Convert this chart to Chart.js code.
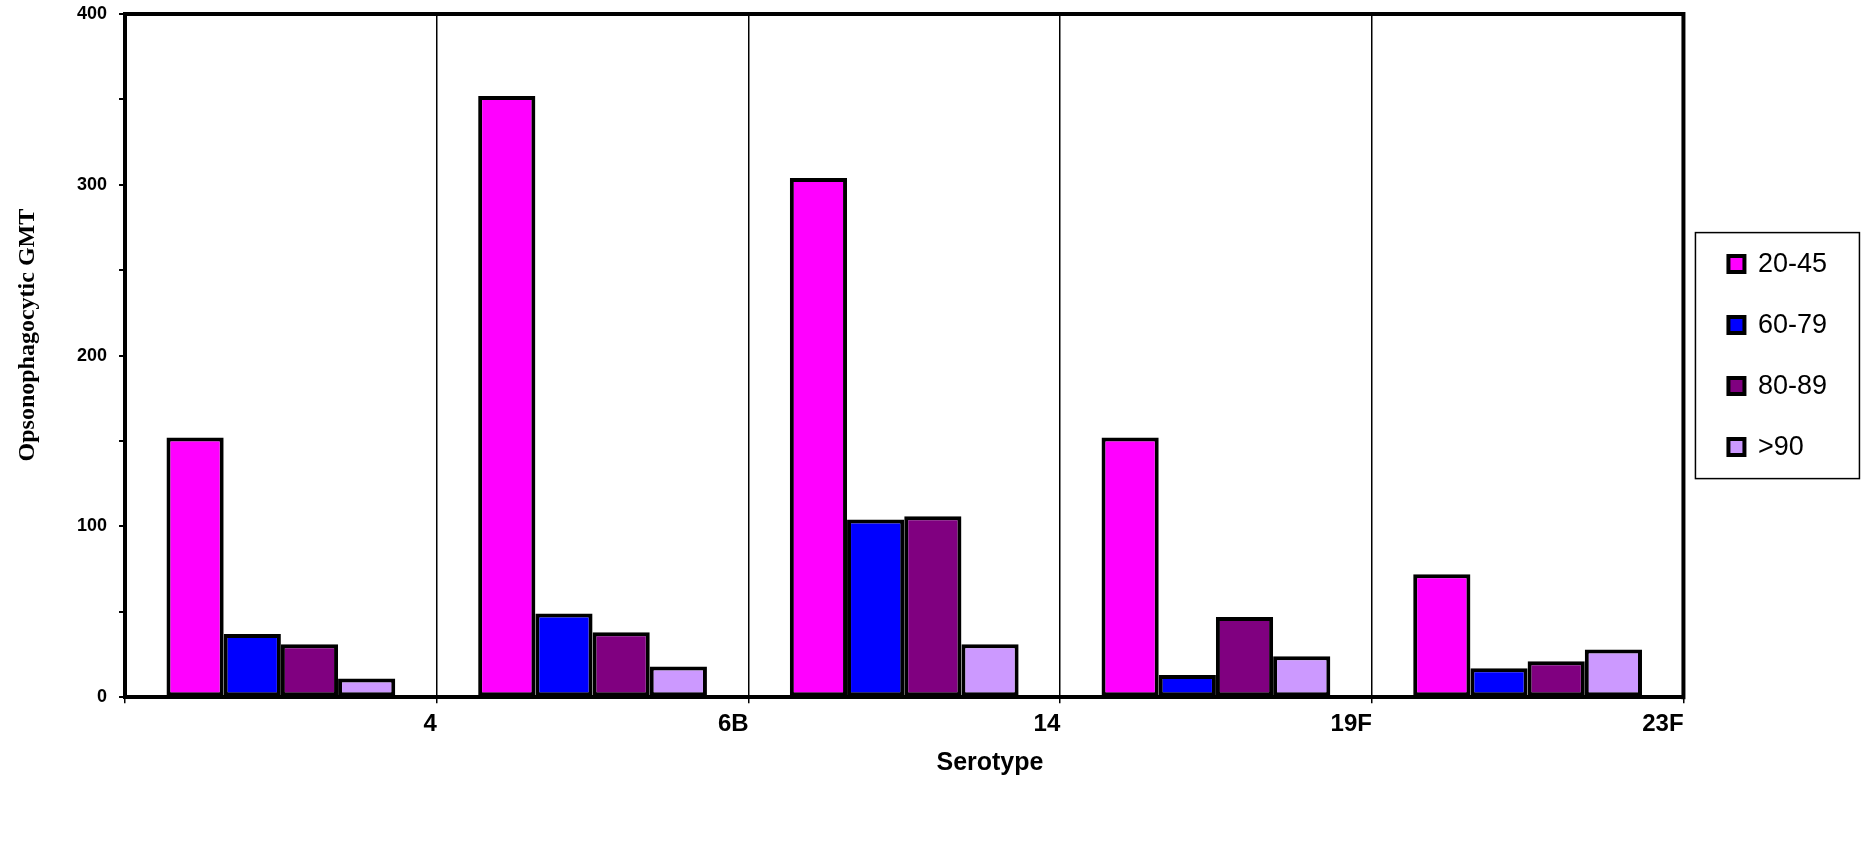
<!DOCTYPE html>
<html>
<head>
<meta charset="utf-8">
<script src="https://cdn.jsdelivr.net/npm/chart.js@4.4.0/dist/chart.umd.min.js"></script>
<style>
  body { margin: 0; background: #fff; }
  #wrap { width: 1862px; height: 842px; }
</style>
</head>
<body>
<div id="wrap"><canvas id="chart"></canvas></div>
<script>
// serotypes and GMT per age group
const serotypes = ["4", "6B", "14", "19F", "23F"];
const age20to45 = [152, 352, 304, 152, 72];
const age60to79 = [37, 49, 104, 13, 17];
const age80to89 = [31, 38, 106, 47, 21];
const age90plus = [11, 18, 31, 24, 28];

const sans = "'Liberation Sans', Arial, sans-serif";
const serif = "'Liberation Serif', 'Times New Roman', serif";

function ds(label, data, color) {
    return {
        label: label,
        data: data,
        backgroundColor: color,
        borderColor: "#000",
        borderWidth: 4,
        borderSkipped: false,
        categoryPercentage: 0.734,
        barPercentage: 1.0
    };
}

// top + right frame, legend box, axis titles
const frame = {
    id: "frame",
    afterDraw(chart) {
        const ctx = chart.ctx;
        const a = chart.chartArea;
        ctx.save();
        ctx.strokeStyle = "#000";
        ctx.lineWidth = 4;
        ctx.beginPath();
        ctx.moveTo(a.left - 2, a.top);
        ctx.lineTo(a.right, a.top);
        ctx.lineTo(a.right, a.bottom + 2);
        ctx.stroke();

        // legend border
        const lg = chart.legend;
        const hb = lg.legendHitBoxes;
        if (hb && hb.length) {
            const last = hb[hb.length - 1];
            const top = hb[0].top - 18;
            const bottom = last.top + last.height + 18;
            ctx.lineWidth = 1.5;
            ctx.strokeRect(lg.left + 1, top, 164, bottom - top);
        }

        ctx.fillStyle = "#000";
        ctx.textAlign = "center";
        ctx.textBaseline = "middle";

        // x axis title
        ctx.font = "bold 25px " + sans;
        ctx.fillText("Serotype", a.left + a.width * 0.555, a.bottom + 66);

        // y axis title
        ctx.translate(28, a.top + a.height * 0.47);
        ctx.rotate(-Math.PI / 2);
        ctx.font = "bold 24px " + serif;
        ctx.fillText("Opsonophagocytic GMT", 0, 0);
        ctx.restore();
    }
};

new Chart(document.getElementById("chart"), {
    type: "bar",
    data: {
        labels: serotypes,
        datasets: [
            ds("20-45", age20to45, "#FF00FF"),
            ds("60-79", age60to79, "#0000FF"),
            ds("80-89", age80to89, "#800080"),
            ds(">90", age90plus, "#CC99FF")
        ]
    },
    options: {
        responsive: true,
        maintainAspectRatio: false,
        animation: false,
        layout: { padding: { top: 14, right: 25, bottom: 96, left: 65 } },
        plugins: {
            tooltip: { enabled: false },
            legend: {
                position: "right",
                fullSize: false,
                labels: {
                    color: "#000",
                    font: { family: sans, size: 27 },
                    boxWidth: 16,
                    boxHeight: 16,
                    padding: 34
                }
            }
        },
        scales: {
            x: {
                grid: {
                    display: true,
                    offset: true,
                    color: "#000",
                    lineWidth: 1.5,
                    drawTicks: true,
                    tickLength: 6
                },
                border: { display: true, color: "#000", width: 4 },
                ticks: {
                    color: "#000",
                    align: "end",
                    labelOffset: 156,
                    padding: 7,
                    maxRotation: 0,
                    font: { family: sans, size: 24, weight: "bold" }
                }
            },
            y: {
                min: 0,
                max: 400,
                grid: {
                    display: true,
                    drawOnChartArea: false,
                    color: "#000",
                    lineWidth: 2,
                    tickLength: 6
                },
                border: { display: true, color: "#000", width: 4 },
                ticks: {
                    stepSize: 50,
                    color: "#000",
                    padding: 12,
                    font: { family: sans, size: 18, weight: "bold" },
                    callback: v => (v % 100 === 0 ? v : "")
                },
                // let the layout padding decide the top edge
                afterFit(scale) {
                    scale.paddingTop = 0;
                    scale.paddingBottom = 0;
                }
            },
            // spacer between plot and legend
            gap: {
                type: "linear",
                position: "right",
                grid: { display: false },
                border: { display: false },
                ticks: { display: false },
                afterFit(scale) { scale.width = 11; }
            }
        }
    },
    plugins: [frame]
});
</script>
</body>
</html>
